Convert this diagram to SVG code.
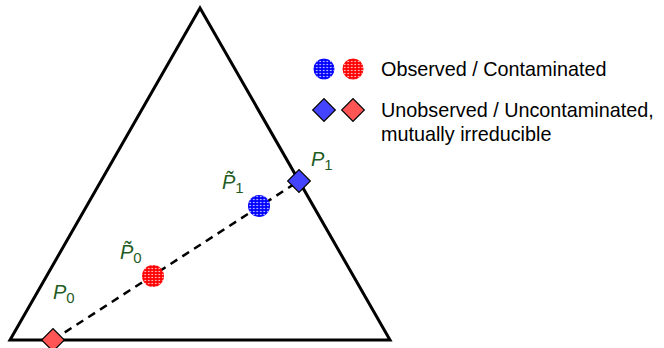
<svg xmlns="http://www.w3.org/2000/svg" width="664" height="348" viewBox="0 0 664 348">
<style>
.lbl{font-family:"Liberation Sans",Arial,sans-serif;font-style:italic;fill:#1f5c1f;font-size:20px}
.sub{font-style:normal;font-size:15px}
.leg{font-family:"Liberation Sans",Arial,sans-serif;font-size:19.8px;fill:#000}
.dia{stroke:#000;stroke-width:1.2}
</style>
<defs>
<pattern id="dots" width="3.5" height="3" patternUnits="userSpaceOnUse">
<ellipse cx="1.75" cy="1.5" rx="1.1" ry="0.75" fill="#fff" opacity="0.7"/>
</pattern>
<g id="diamond"><rect x="-8" y="-8" width="16" height="16" transform="rotate(45)"/></g>
</defs>
<g id="triangle"><polygon points="200,8 10,340 390,340" fill="none" stroke="#000" stroke-width="3" stroke-linejoin="miter"/></g>
<g id="connectors"><line x1="53" y1="340" x2="299" y2="181" stroke="#000" stroke-width="2.5" stroke-dasharray="8,6"/></g>
<g id="P0"><use href="#diamond" x="53" y="340" class="dia" fill="#ff5555"/><text class="lbl" x="53" y="299">P<tspan class="sub" dy="4">0</tspan></text></g>
<g id="P0t"><circle cx="153" cy="276" r="11" fill="#ff0000"/><circle cx="153" cy="276" r="11" fill="url(#dots)"/><text class="lbl" x="120" y="259">P&#x303;<tspan class="sub" dy="4">0</tspan></text></g>
<g id="P1t"><circle cx="259" cy="206" r="11" fill="#0000ff"/><circle cx="259" cy="206" r="11" fill="url(#dots)"/><text class="lbl" x="222" y="189">P&#x303;<tspan class="sub" dy="4">1</tspan></text></g>
<g id="P1"><use href="#diamond" x="299" y="181" class="dia" fill="#4444ff"/><text class="lbl" x="311" y="166">P<tspan class="sub" dy="4">1</tspan></text></g>
<g id="legend">
<circle cx="324" cy="69" r="10.5" fill="#0000ff"/><circle cx="324" cy="69" r="10.5" fill="url(#dots)"/>
<circle cx="353" cy="69" r="10.5" fill="#ff0000"/><circle cx="353" cy="69" r="10.5" fill="url(#dots)"/>
<text class="leg" x="381" y="76">Observed / Contaminated</text>
<use href="#diamond" x="324" y="110" class="dia" fill="#4444ff"/>
<use href="#diamond" x="353" y="110" class="dia" fill="#ff5555"/>
<text class="leg" x="381" y="117">Unobserved / Uncontaminated,</text>
<text class="leg" x="381" y="141">mutually irreducible</text>
</g>
</svg>
